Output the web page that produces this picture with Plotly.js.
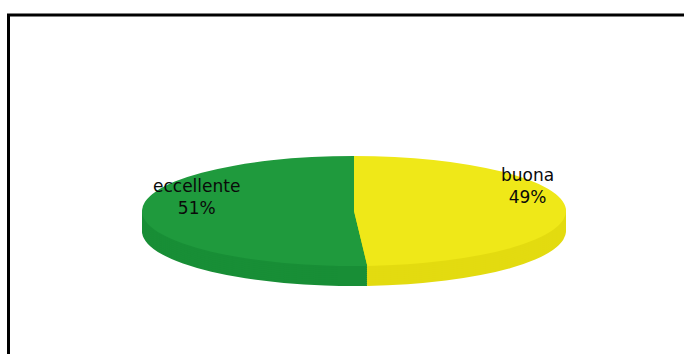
<!DOCTYPE html>
<html>
<head>
<meta charset="utf-8">
<script src="https://cdn.plot.ly/plotly-3.0.1.min.js"></script>
<style>
html,body{margin:0;padding:0;background:#fff;}
#chart{width:684px;height:354px;}
</style>
</head>
<body>
<div id="chart"></div>
<script>
const labels = ['eccellente', 'buona'];
const values = [51, 49];
const topColors = ['#1f9a3d', '#efe818'];
const rimColors = ['#188e36', '#e3db10'];

// geometry of the flattened (3D-looking) pie
const CX = 354, CY = 211, RX = 212, RY = 55, DEPTH = 20, STEP = 2;

const total = values.reduce((a, b) => a + b, 0);
// first slice ends at 12 o'clock (goes over the left side)
const startRotation = 360 * (1 - values[0] / total);

const offsets = [];
for (let o = DEPTH; o > 0; o -= STEP) offsets.push(o);
offsets.push(0);

const traces = offsets.map(o => ({
  type: 'pie',
  labels: labels,
  values: values,
  sort: false,
  direction: 'clockwise',
  rotation: startRotation,
  textinfo: 'none',
  hoverinfo: 'none',
  showlegend: false,
  marker: {colors: o === 0 ? topColors : rimColors, line: {width: 0}},
  domain: {x: [0, 1], y: [0, 1]}
}));

const labelPos = [{x: 196, y: 197}, {x: 527, y: 186}];
const annotations = labels.map((l, i) => ({
  xref: 'paper', yref: 'paper',
  x: labelPos[i].x / 684, y: 1 - labelPos[i].y / 354,
  xanchor: 'center', yanchor: 'middle',
  text: l + '<br>' + Math.round(values[i] / total * 100) + '%',
  showarrow: false,
  font: {family: 'DejaVu Sans, Verdana, sans-serif', size: 17, color: '#0a0a0a'}
}));

const layout = {
  width: 684, height: 354,
  margin: {l: 0, r: 0, t: 0, b: 0},
  paper_bgcolor: '#fff',
  showlegend: false,
  annotations: annotations,
  shapes: [{
    type: 'rect', xref: 'paper', yref: 'paper',
    x0: 8.5 / 684, x1: 1.05, y0: -0.1, y1: 1 - 15 / 354,
    line: {color: '#000', width: 3}, fillcolor: 'rgba(0,0,0,0)'
  }]
};

Plotly.newPlot('chart', traces, layout, {displayModeBar: false, staticPlot: true}).then(gd => {
  const groups = gd.querySelectorAll('.pielayer .trace');
  groups.forEach((g, i) => {
    const cd0 = gd.calcdata[i][0];
    const r = cd0.r, cx = cd0.cx, cy = cd0.cy;
    const off = offsets[i];
    g.setAttribute('transform',
      'translate(' + CX + ',' + (CY + off) + ') scale(' + (RX / r) + ',' + (RY / r) + ') translate(' + (-cx) + ',' + (-cy) + ')');
  });
});
</script>
</body>
</html>
